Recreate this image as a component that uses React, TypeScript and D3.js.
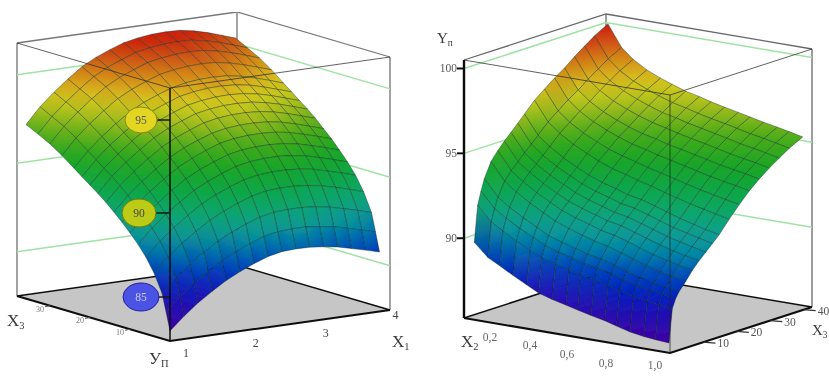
import React from "react";
import * as d3 from "d3";

// ---------- left chart data ----------
const leftX1 = [1, 1.2, 1.4, 1.6, 1.8, 2, 2.2, 2.4, 2.6, 2.8, 3, 3.2, 3.4, 3.6, 3.8, 4];
const leftX3 = [0, 1, 2, 4, 6, 8, 10, 12, 14, 16, 18, 20, 22, 24, 27, 30, 33, 36];
const leftY = [
  [83.07,83.79,84.43,84.96,85.46,85.86,86.20,86.49,86.66,86.70,86.69,86.60,86.48,86.28,86.08,85.86],
  [84.09,84.83,85.48,86.02,86.53,86.93,87.27,87.56,87.72,87.77,87.77,87.68,87.56,87.36,87.15,86.93],
  [85.07,85.83,86.48,87.04,87.56,87.96,88.30,88.59,88.75,88.80,88.80,88.73,88.60,88.40,88.19,87.96],
  [86.08,86.86,87.52,88.09,88.61,89.02,89.35,89.64,89.81,89.87,89.87,89.80,89.67,89.47,89.25,89.01],
  [86.83,87.62,88.29,88.87,89.40,89.81,90.14,90.43,90.59,90.65,90.66,90.59,90.47,90.26,90.04,89.80],
  [87.43,88.23,88.90,89.48,90.02,90.43,90.76,91.05,91.21,91.28,91.29,91.22,91.10,90.89,90.66,90.42],
  [87.94,88.75,89.42,90.01,90.55,90.96,91.29,91.58,91.74,91.81,91.82,91.77,91.64,91.43,91.20,90.95],
  [88.42,89.24,89.92,90.51,91.06,91.47,91.80,92.09,92.25,92.32,92.33,92.28,92.15,91.94,91.71,91.46],
  [88.85,89.67,90.35,90.95,91.50,91.92,92.24,92.53,92.69,92.77,92.78,92.73,92.60,92.39,92.15,91.90],
  [89.27,90.11,90.79,91.40,91.95,92.36,92.69,92.98,93.14,93.22,93.23,93.18,93.05,92.84,92.60,92.35],
  [89.64,90.48,91.17,91.78,92.34,92.75,93.08,93.37,93.52,93.61,93.62,93.58,93.44,93.24,92.99,92.74],
  [89.98,90.82,91.51,92.13,92.69,93.10,93.43,93.72,93.87,93.96,93.98,93.93,93.80,93.59,93.34,93.09],
  [90.32,91.17,91.87,92.48,93.05,93.46,93.79,94.08,94.23,94.32,94.34,94.29,94.16,93.95,93.70,93.45],
  [90.67,91.53,92.23,92.85,93.41,93.83,94.15,94.44,94.60,94.69,94.71,94.67,94.53,94.32,94.08,93.81],
  [91.19,92.06,92.76,93.39,93.96,94.37,94.70,94.99,95.14,95.23,95.26,95.22,95.08,94.87,94.62,94.36],
  [91.64,92.52,93.23,93.86,94.43,94.85,95.17,95.46,95.61,95.71,95.74,95.70,95.56,95.35,95.10,94.83],
  [92.00,92.88,93.59,94.22,94.80,95.22,95.54,95.83,95.98,96.08,96.11,96.08,95.94,95.73,95.47,95.20],
  [92.34,93.23,93.94,94.58,95.16,95.58,95.90,96.19,96.34,96.44,96.47,96.44,96.30,96.09,95.83,95.56],
];
const leftLevels = [85, 90, 95];
const leftX1Ticks = [1, 2, 3, 4];
const leftX3Ticks = [10, 20, 30];

// ---------- right chart data ----------
const rightX2 = [0, 0.07, 0.13, 0.2, 0.27, 0.33, 0.4, 0.47, 0.53, 0.6, 0.67, 0.73, 0.8, 0.87, 0.93, 1];
const rightX3 = [0, 1, 2, 3, 5, 7, 9, 11, 13, 15, 18, 21, 24, 27, 30, 33, 36, 40];
const rightY = [
  [89.86,89.10,88.74,88.29,87.88,87.52,87.28,87.08,86.91,86.72,86.55,86.35,86.14,86.01,85.94,85.88],
  [91.98,91.12,90.71,90.25,89.85,89.52,89.27,89.07,88.90,88.77,88.55,88.37,88.16,88.02,87.93,87.85],
  [92.75,91.84,91.40,90.93,90.53,90.18,89.92,89.72,89.52,89.39,89.16,88.96,88.74,88.59,88.47,88.37],
  [93.42,92.46,91.98,91.50,91.08,90.71,90.44,90.21,90.00,89.85,89.60,89.39,89.15,88.97,88.83,88.71],
  [94.30,93.27,92.76,92.24,91.80,91.44,91.13,90.87,90.65,90.48,90.21,89.98,89.71,89.50,89.35,89.19],
  [94.81,93.77,93.24,92.73,92.30,91.93,91.63,91.39,91.15,90.99,90.74,90.50,90.24,90.04,89.87,89.72],
  [95.25,94.18,93.66,93.14,92.70,92.35,92.05,91.81,91.58,91.43,91.17,90.94,90.68,90.47,90.31,90.15],
  [95.64,94.56,94.02,93.51,93.08,92.73,92.43,92.19,91.96,91.81,91.56,91.33,91.07,90.87,90.70,90.53],
  [96.05,94.95,94.40,93.89,93.47,93.12,92.81,92.58,92.35,92.20,91.95,91.72,91.46,91.26,91.09,90.91],
  [96.46,95.34,94.79,94.27,93.85,93.51,93.20,92.97,92.74,92.59,92.35,92.12,91.86,91.65,91.47,91.30],
  [97.08,95.94,95.38,94.87,94.47,94.14,93.84,93.62,93.40,93.19,92.95,92.76,92.53,92.35,92.19,92.02],
  [97.55,96.40,95.84,95.35,94.97,94.66,94.38,94.17,93.96,93.77,93.56,93.38,93.17,93.00,92.85,92.69],
  [98.01,96.86,96.30,95.82,95.45,95.17,94.89,94.70,94.50,94.32,94.13,93.96,93.76,93.61,93.48,93.31],
  [98.41,97.24,96.69,96.21,95.85,95.58,95.32,95.14,94.95,94.78,94.59,94.44,94.25,94.10,93.98,93.82],
  [98.89,97.70,97.14,96.66,96.31,96.04,95.78,95.59,95.41,95.23,95.06,94.90,94.72,94.56,94.44,94.27],
  [99.32,98.11,97.54,97.07,96.71,96.45,96.18,96.00,95.81,95.64,95.46,95.31,95.12,94.98,94.84,94.67],
  [99.74,98.51,97.93,97.45,97.10,96.84,96.57,96.39,96.20,96.02,95.86,95.70,95.52,95.37,95.23,95.06],
  [100.18,98.93,98.34,97.86,97.51,97.26,96.99,96.81,96.62,96.44,96.27,96.12,95.94,95.79,95.65,95.47],
];
const rightLevels = [90, 95, 100];
const rightX2Ticks = ["0,2", "0,4", "0,6", "0,8", "1,0"];
const rightX3Ticks = [10, 20, 30, 40];

// ---------- colour map: share of the vertical axis -> colour ----------
const colorShare = [0.03, 0.14, 0.2, 0.28, 0.33, 0.4, 0.47, 0.58, 0.67, 0.73, 0.79, 0.85, 0.91, 0.97];
const colorValue = ["#4400a0", "#2808b8", "#0020c0", "#0050b8", "#0088a8", "#10a090", "#10a860", "#12a428", "#4cac18", "#a0ba1c", "#d6cc1e", "#d8981a", "#cc5c12", "#cc1c10"];
const colormap = d3.scaleLinear<string>().domain(colorShare).range(colorValue).clamp(true);

type P = [number, number];
const pathOf = d3.line<P>();
const SERIF = "'Liberation Serif','Times New Roman',serif";

type SurfaceProps = {
  id: string;
  project: (a: number, b: number, w: number) => P;
  aScale: (v: number) => number;
  bScale: (v: number) => number;
  wScale: (v: number) => number;
  aValues: number[];
  bValues: number[];
  rows: number[][];
  far: (i: number, j: number) => number;
};

function Surface({ id, project, aScale, bScale, wScale, aValues, bValues, rows, far }: SurfaceProps) {
  const cells: { key: string; d: string; order: number; grad: any; gid: string }[] = [];
  for (let j = 0; j < bValues.length - 1; j++) {
    for (let i = 0; i < aValues.length - 1; i++) {
      const verts = [[i, j], [i + 1, j], [i + 1, j + 1], [i, j + 1]].map(([ii, jj]) => {
        const w = wScale(rows[jj][ii]);
        return { p: project(aScale(aValues[ii]), bScale(bValues[jj]), w), w };
      });
      const lo = verts.reduce((m, v) => (v.w < m.w ? v : m));
      const hi = verts.reduce((m, v) => (v.w > m.w ? v : m));
      const gid = `${id}-${i}-${j}`;
      cells.push({
        key: gid,
        gid,
        order: far(i, j),
        d: (pathOf(verts.map((v) => v.p)) as string) + "Z",
        grad: (
          <linearGradient key={gid} id={gid} gradientUnits="userSpaceOnUse" x1={lo.p[0]} y1={lo.p[1]} x2={hi.p[0]} y2={hi.p[1]}>
            <stop offset="0" stopColor={colormap(lo.w)} />
            <stop offset="1" stopColor={colormap(hi.w)} />
          </linearGradient>
        ),
      });
    }
  }
  cells.sort((x, y) => y.order - x.order);
  return (
    <g>
      <defs>{cells.map((c) => c.grad)}</defs>
      {cells.map((c) => (
        <path key={c.key} d={c.d} fill={`url(#${c.gid})`} stroke="#06281a" strokeOpacity={0.55} strokeWidth={0.7} strokeLinejoin="round" />
      ))}
    </g>
  );
}

function Label({ x, y, main, sub, size = 17 }: { x: number; y: number; main: string; sub: string; size?: number }) {
  return (
    <text x={x} y={y} fontFamily={SERIF} fontSize={size} fill="#3a3a3a">
      {main}
      <tspan fontSize={size * 0.62} dy={3}>{sub}</tspan>
    </text>
  );
}

function Bubble({ cx, cy, rx, ry, fill, stroke, text, color }: { cx: number; cy: number; rx: number; ry: number; fill: string; stroke: string; text: string; color: string }) {
  return (
    <g>
      <line x1={cx + rx} x2={170} y1={cy} y2={cy} stroke="#111" strokeWidth={1.4} />
      <ellipse cx={cx} cy={cy} rx={rx} ry={ry} fill={fill} stroke={stroke} strokeWidth={1} />
      <text x={cx} y={cy + 4} textAnchor="middle" fontFamily={SERIF} fontSize={11.5} fill={color}>{text}</text>
    </g>
  );
}

function LeftChart() {
  const O: P = [170, 341];
  const project = (u: number, v: number, w: number): P => [O[0] + 220 * u - 153 * v, O[1] - 31 * u - 45 * v - 253 * w];
  const uS = d3.scaleLinear().domain([1, 4.15]).range([0, 1]);
  const vS = d3.scaleLinear().domain([0, 38.25]).range([0, 1]);
  const wS = d3.scaleLinear().domain([82.5, 96.8]).range([0, 1]);
  const line = (pts: P[]) => pathOf(pts) as string;
  const floor = [project(0, 0, 0), project(1, 0, 0), project(1, 1, 0), project(0, 1, 0)];
  return (
    <g>
      <path d={line(floor) + "Z"} fill="#c6c6c6" />
      <path d={line([project(0, 1, 0), project(1, 1, 0), project(1, 0, 0)])} fill="none" stroke="#111" strokeWidth={1.5} />
      {[[0, 1], [1, 1], [1, 0]].map(([a, b], k) => (
        <path key={k} d={line([project(a, b, 0), project(a, b, 1)])} stroke="#8c8c8c" strokeWidth={1.6} />
      ))}
      <path d={line([project(0, 1, 1), project(1, 1, 1), project(1, 0, 1)])} fill="none" stroke="#77777c" strokeWidth={1.3} />
      {leftLevels.map((L) => (
        <path key={L} d={line([project(0, 1, wS(L)), project(1, 1, wS(L)), project(1, 0, wS(L))])} fill="none" stroke="#a0e2a4" strokeWidth={1.5} />
      ))}
      <Surface id="l" project={project} aScale={uS} bScale={vS} wScale={wS} aValues={leftX1} bValues={leftX3} rows={leftY} far={(i, j) => i + j} />
      <path d={line([project(0, 1, 1), project(0, 0, 1), project(1, 0, 1)])} fill="none" stroke="#2c2c30" strokeOpacity={0.75} strokeWidth={1} />
      <path d={line([project(0, 0, 0), project(0, 0, 1)])} stroke="#0c0c0c" strokeWidth={1.5} />
      <path d={line([project(0, 1, 0), project(0, 0, 0), project(1, 0, 0)])} fill="none" stroke="#0c0c0c" strokeWidth={2} />
      {leftX3Ticks.map((t) => {
        const [x, y] = project(0, vS(t), 0);
        return (
          <g key={t}>
            <line x1={x} x2={x - 5} y1={y} y2={y + 1} stroke="#555" />
            <text x={x - 6} y={y + 6} textAnchor="end" fontFamily={SERIF} fontSize={8} fill="#777">{t}</text>
          </g>
        );
      })}
      {leftX1Ticks.map((t) => {
        const [x, y] = project(uS(t), 0, 0);
        return (
          <text key={t} x={x + 16} y={y + (t === 4 ? 8 : 16)} textAnchor="middle" fontFamily={SERIF} fontSize={12} fill="#444">{t}</text>
        );
      })}
      <Bubble cx={141} cy={120} rx={16} ry={13} fill="#e2d622" stroke="#8a8a10" text="95" color="#555" />
      <Bubble cx={139} cy={213} rx={17} ry={14} fill="#bccc12" stroke="#6a7a10" text="90" color="#444" />
      <Bubble cx={141} cy={297} rx={18} ry={14} fill="#4c52e4" stroke="#2222a0" text="85" color="#c8ccf0" />
      <Label x={7} y={326} main="X" sub="3" />
      <Label x={149} y={364} main="У" sub="П" />
      <Label x={392} y={347} main="X" sub="1" />
    </g>
  );
}

function RightChart() {
  const O: P = [464, 318];
  const project = (a: number, b: number, w: number): P => [O[0] + 206 * a + 142 * b, O[1] + 35 * a - 46 * b - 258 * w];
  const aS = d3.scaleLinear().domain([-0.053, 1.005]).range([0, 1]);
  const bS = d3.scaleLinear().domain([0, 42.5]).range([0, 1]);
  const wS = d3.scaleLinear().domain([85.3, 100.5]).range([0, 1]);
  const line = (pts: P[]) => pathOf(pts) as string;
  const floor = [project(0, 0, 0), project(1, 0, 0), project(1, 1, 0), project(0, 1, 0)];
  return (
    <g>
      <path d={line(floor) + "Z"} fill="#c6c6c6" />
      <path d={line([project(0, 0, 0), project(0, 1, 0), project(1, 1, 0)])} fill="none" stroke="#111" strokeWidth={1.5} />
      {[[0, 1], [1, 1]].map(([a, b], k) => (
        <path key={k} d={line([project(a, b, 0), project(a, b, 1)])} stroke="#85858a" strokeWidth={1.6} />
      ))}
      <path d={line([project(0, 0, 1), project(0, 1, 1), project(1, 1, 1)])} fill="none" stroke="#66666c" strokeWidth={1.3} />
      {rightLevels.map((L) => (
        <path key={L} d={line([project(0, 0, wS(L)), project(0, 1, wS(L)), project(1, 1, wS(L))])} fill="none" stroke="#a0e2a4" strokeWidth={1.5} />
      ))}
      <Surface id="r" project={project} aScale={aS} bScale={bS} wScale={wS} aValues={rightX2} bValues={rightX3} rows={rightY} far={(i, j) => j - i} />
      <path d={line([project(0, 0, 1), project(1, 0, 1), project(1, 1, 1)])} fill="none" stroke="#2c2c30" strokeOpacity={0.75} strokeWidth={1} />
      <path d={line([project(1, 0, 0), project(1, 0, 1)])} stroke="#1c2c1c" strokeOpacity={0.75} strokeWidth={1} />
      <path d={line([project(0, 0, 0), project(0, 0, 1)])} stroke="#0a0a0a" strokeWidth={2.4} />
      <path d={line([project(0, 0, 0), project(1, 0, 0), project(1, 1, 0)])} fill="none" stroke="#0c0c0c" strokeWidth={2} />
      {rightLevels.map((L) => {
        const [x, y] = project(0, 0, wS(L));
        return (
          <g key={L}>
            <line x1={x - 7} x2={x} y1={y} y2={y} stroke="#111" strokeWidth={2} />
            <text x={x - 7} y={y + 4} textAnchor="end" fontFamily={SERIF} fontSize={11.5} fill="#555">{L}</text>
          </g>
        );
      })}
      {rightX2Ticks.map((t, k) => (
        <text key={t} x={[490, 530, 567, 606, 655][k]} y={[341, 349, 358, 367, 369][k]} textAnchor="middle" fontFamily={SERIF} fontSize={11.5} fill="#666">{t}</text>
      ))}
      {rightX3Ticks.map((t) => {
        const [x, y] = project(1, bS(t), 0);
        return (
          <g key={t}>
            <line x1={x} x2={x + 12} y1={y} y2={y + 1} stroke="#333" strokeWidth={1.2} />
            <text x={x + 14} y={y + 5} fontFamily={SERIF} fontSize={11.5} fill="#555">{t}</text>
          </g>
        );
      })}
      <Label x={437} y={43} main="Y" sub="п" size={15} />
      <Label x={461} y={347} main="X" sub="2" />
      <Label x={812} y={335} main="X" sub="3" size={15} />
    </g>
  );
}

export default function App() {
  return (
    <svg width={829} height={380} viewBox="0 0 829 380" style={{ position: "fixed", left: 0, top: 0, background: "#fff" }}>
      <defs>
        <filter id="soft" x="0" y="0" width="100%" height="100%">
          <feGaussianBlur stdDeviation="0.45" />
        </filter>
      </defs>
      <rect width={829} height={380} fill="#fff" />
      <g filter="url(#soft)">
        <LeftChart />
        <RightChart />
      </g>
    </svg>
  );
}
